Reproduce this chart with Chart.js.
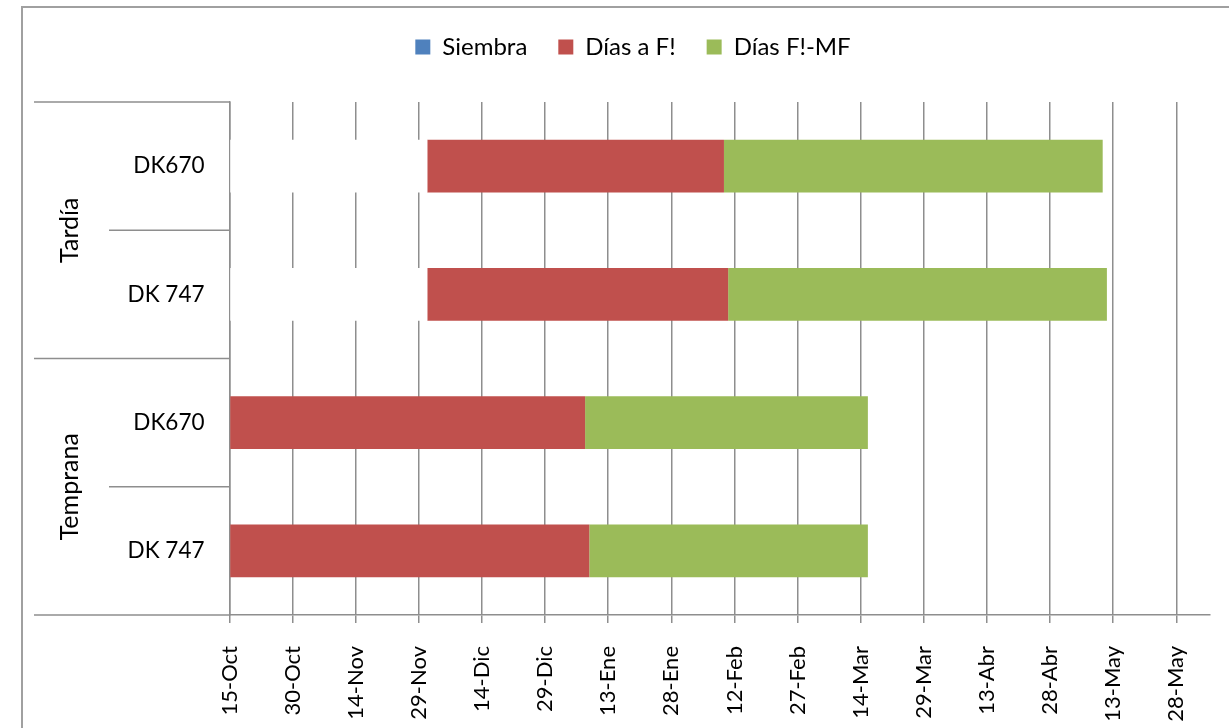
<!DOCTYPE html>
<html lang="es">
<head>
    <meta charset="UTF-8">
    <title>Siembra - Floración - Madurez</title>
    <script src="https://cdn.jsdelivr.net/npm/chart.js"></script>
    <style>
        html, body { margin: 0; padding: 0; background: #fff; overflow: hidden; }
        .frame {
            position: absolute; left: 21px; top: 6px;
            width: 1300px; height: 800px;
            border-top: 2px solid #a0a0a0; border-left: 2px solid #a0a0a0;
        }
        .chart-container {
            position: absolute; left: 0; top: 0;
            width: 1229px; height: 728px;
        }
    </style>
</head>
<body>
    <div class="frame"></div>
    <div class="chart-container">
        <canvas id="ganttChart"></canvas>
    </div>

    <script>
    // Datos (días desde el 15-Oct)
    const categories = ['DK670', 'DK 747', 'DK670', 'DK 747'];
    const groups = ['Tardía', 'Tardía', 'Temprana', 'Temprana'];
    const siembra = [47, 47, 0, 0];
    const diasAF = [70.5, 71.5, 84.5, 85.5];
    const diasFMF = [90, 90, 67.2, 66.2];
    const tickLabels = ['15-Oct', '30-Oct', '14-Nov', '29-Nov', '14-Dic', '29-Dic', '13-Ene', '28-Ene',
        '12-Feb', '27-Feb', '14-Mar', '29-Mar', '13-Abr', '28-Abr', '13-May', '28-May'];
    const tickStep = 15;
    const axisMax = 233;

    const colors = {
        siembra: '#4F81BD',
        diasAF: '#C0504D',
        diasFMF: '#9BBB59',
        grid: '#8e8e8e'
    };
    const fontFamily = 'Lato, "Open Sans", sans-serif';

    // Eje de categorías agrupado (Tardía / Temprana)
    const groupAxis = {
        id: 'groupAxis',
        afterDraw(chart) {
            const {ctx, chartArea, scales: {y}} = chart;
            const half = Math.abs(y.getPixelForValue(1) - y.getPixelForValue(0)) / 2;
            ctx.save();
            ctx.strokeStyle = colors.grid;
            ctx.lineWidth = 1.5;
            for (let i = 0; i <= categories.length; i++) {
                const yy = i < categories.length ? y.getPixelForValue(i) - half : y.getPixelForValue(i - 1) + half;
                const newGroup = i === 0 || i === categories.length || groups[i] !== groups[i - 1];
                const x0 = newGroup ? 34 : 109;
                ctx.beginPath();
                ctx.moveTo(x0, yy);
                ctx.lineTo(chartArea.left, yy);
                ctx.stroke();
            }
            ctx.fillStyle = '#000';
            ctx.font = '25px ' + fontFamily;
            ctx.textAlign = 'center';
            ctx.textBaseline = 'middle';
            const seen = [];
            groups.forEach((g) => {
                if (seen.includes(g)) return;
                seen.push(g);
                const first = groups.indexOf(g);
                const last = groups.lastIndexOf(g);
                const cy = (y.getPixelForValue(first) + y.getPixelForValue(last)) / 2;
                ctx.save();
                ctx.translate(70, cy);
                ctx.rotate(-Math.PI / 2);
                ctx.fillText(g, 0, 0);
                ctx.restore();
            });
            ctx.restore();
        }
    };

    document.addEventListener('DOMContentLoaded', function() {
        const ctx = document.getElementById('ganttChart');
        new Chart(ctx, {
            type: 'bar',
            data: {
                labels: categories,
                datasets: [
                    { label: 'Siembra', data: siembra, backgroundColor: '#ffffff', xAxisID: 'x' },
                    { label: 'Días a F!', data: diasAF, backgroundColor: colors.diasAF, xAxisID: 'x' },
                    { label: 'Días F!-MF', data: diasFMF, backgroundColor: colors.diasFMF, xAxisID: 'x' }
                ]
            },
            options: {
                indexAxis: 'y',
                responsive: true,
                maintainAspectRatio: false,
                animation: false,
                layout: { padding: { left: 56, right: 19, top: 4, bottom: 0 } },
                datasets: {
                    bar: { categoryPercentage: 1, barPercentage: 0.41, borderWidth: 0 }
                },
                plugins: {
                    legend: {
                        position: 'top',
                        labels: {
                            padding: 31,
                            boxWidth: 15,
                            boxHeight: 15,
                            color: '#000',
                            font: { family: fontFamily, size: 24 },
                            generateLabels(chart) {
                                const items = Chart.defaults.plugins.legend.labels.generateLabels(chart);
                                const fills = [colors.siembra, colors.diasAF, colors.diasFMF];
                                items.forEach((it, i) => { it.fillStyle = fills[i]; it.strokeStyle = fills[i]; it.lineWidth = 0; });
                                return items;
                            }
                        }
                    },
                    tooltip: { enabled: false }
                },
                scales: {
                    x: {
                        type: 'linear',
                        position: 'bottom',
                        stacked: true,
                        min: 0,
                        max: axisMax,
                        afterBuildTicks(scale) {
                            scale.ticks = scale.ticks.filter(t => t.value % tickStep === 0);
                        },
                        afterFit(scale) { scale.height = 113; },
                        grid: { color: colors.grid, lineWidth: 1.5, tickLength: 8 },
                        border: { color: colors.grid, width: 1.5 },
                        ticks: {
                            stepSize: tickStep,
                            autoSkip: false,
                            minRotation: 90,
                            maxRotation: 90,
                            padding: 23,
                            color: '#000',
                            font: { family: fontFamily, size: 22 },
                            callback: (v) => tickLabels[v / tickStep]
                        }
                    },
                    xTop: {
                        type: 'linear',
                        axis: 'x',
                        position: 'top',
                        display: true,
                        grid: { display: false },
                        border: { display: false },
                        ticks: { display: false },
                        afterFit(scale) { scale.height = 33; }
                    },
                    y: {
                        type: 'category',
                        stacked: true,
                        afterFit(scale) { scale.width = 173.5; },
                        grid: { display: false },
                        border: { color: colors.grid, width: 1.5 },
                        ticks: {
                            padding: 17,
                            color: '#000',
                            font: { family: fontFamily, size: 22.5 }
                        }
                    }
                }
            },
            plugins: [groupAxis]
        });
    });
    </script>
</body>
</html>
